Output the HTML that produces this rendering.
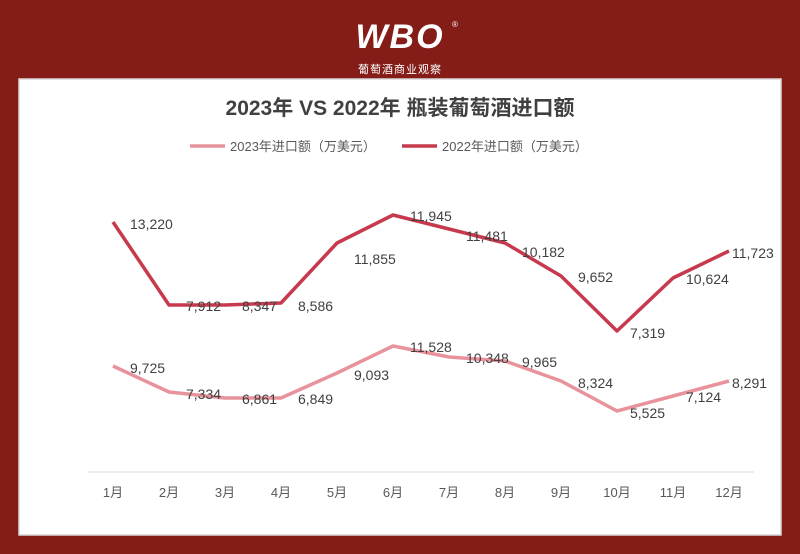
<!DOCTYPE html>
<html><head><meta charset="utf-8"><style>
body{margin:0;width:800px;height:554px;background:#841c17;overflow:hidden;font-family:"Liberation Sans","Noto Sans CJK SC",sans-serif}
</style></head><body>
<svg width="800" height="554" xmlns="http://www.w3.org/2000/svg" style="position:absolute;left:0;top:0">
<rect x="19" y="79" width="762" height="456" fill="#fff" stroke="#d8d8d8" stroke-width="1.5"/>
<text x="400" y="48" text-anchor="middle" font-size="34" font-weight="bold" font-style="italic" fill="#fff" font-family="Liberation Sans,sans-serif" letter-spacing="2">WBO</text>
<text x="452" y="27" font-size="8" fill="#fff">®</text>
<text x="400" y="73" text-anchor="middle" font-size="11" fill="#fff" font-family="Noto Sans CJK SC,sans-serif" letter-spacing="1">葡萄酒商业观察</text>
<text x="400" y="115" text-anchor="middle" font-size="21" font-weight="bold" fill="#404040" font-family="Liberation Sans,Noto Sans CJK SC,sans-serif">2023年 VS 2022年 瓶装葡萄酒进口额</text>
<line x1="190" y1="146" x2="225" y2="146" stroke="#e8939b" stroke-width="3.5"/>
<text x="230" y="151" font-size="13" fill="#595959">2023年进口额（万美元）</text>
<line x1="402" y1="146" x2="437" y2="146" stroke="#c73a4d" stroke-width="3.5"/>
<text x="442" y="151" font-size="13" fill="#595959">2022年进口额（万美元）</text>
<line x1="88" y1="472" x2="754" y2="472" stroke="#d9d9d9"/>
<polyline fill="none" stroke="#c73a4d" stroke-width="3.5" stroke-linejoin="round" points="113,222 169,305 225,305 281,303 337,243 393,215 449,229 505,243 561,276 617,331 673,278 729,251"/>
<polyline fill="none" stroke="#e8939b" stroke-width="3.5" stroke-linejoin="round" points="113,366 169,392 225,398 281,398 337,373 393,346 449,357 505,361 561,381 617,411 673,396 729,381"/>
<g font-size="14" fill="#404040">
<text x="130" y="229">13,220</text><text x="186" y="311">7,912</text><text x="242" y="311">8,347</text><text x="298" y="311">8,586</text>
<text x="354" y="264">11,855</text><text x="410" y="221">11,945</text><text x="466" y="241">11,481</text><text x="522" y="257">10,182</text>
<text x="578" y="282">9,652</text><text x="630" y="338">7,319</text><text x="686" y="284">10,624</text><text x="732" y="258">11,723</text>
<text x="130" y="373">9,725</text><text x="186" y="399">7,334</text><text x="242" y="404">6,861</text><text x="298" y="404">6,849</text>
<text x="354" y="380">9,093</text><text x="410" y="352">11,528</text><text x="466" y="363">10,348</text><text x="522" y="367">9,965</text>
<text x="578" y="388">8,324</text><text x="630" y="418">5,525</text><text x="686" y="402">7,124</text><text x="732" y="388">8,291</text>
</g>
<g font-size="13" fill="#595959" text-anchor="middle">
<text x="113" y="497">1月</text><text x="169" y="497">2月</text><text x="225" y="497">3月</text><text x="281" y="497">4月</text>
<text x="337" y="497">5月</text><text x="393" y="497">6月</text><text x="449" y="497">7月</text><text x="505" y="497">8月</text>
<text x="561" y="497">9月</text><text x="617" y="497">10月</text><text x="673" y="497">11月</text><text x="729" y="497">12月</text>
</g>
</svg>
</body></html>
